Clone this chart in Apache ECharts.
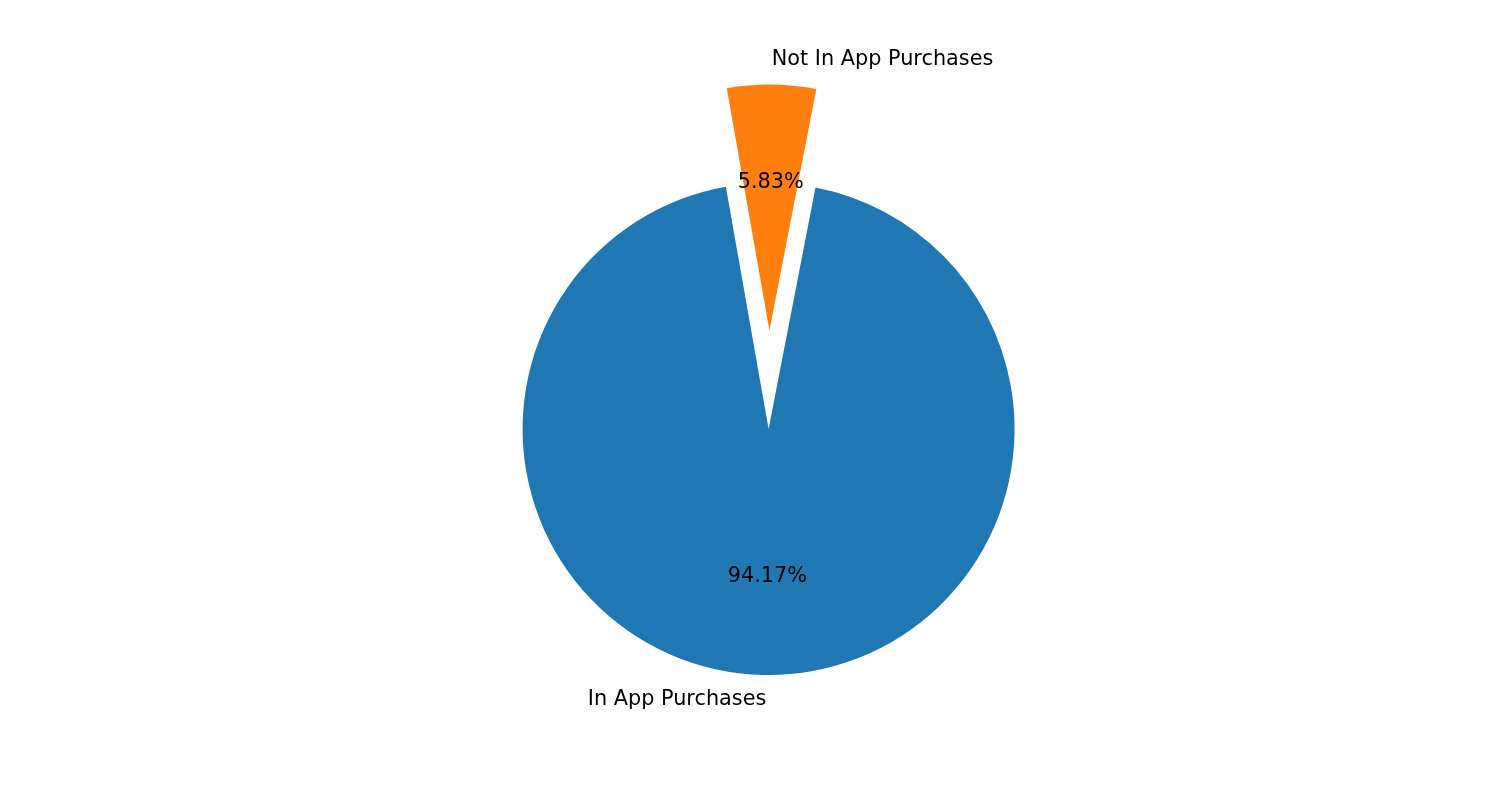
<!DOCTYPE html>
<html>
<head>
<meta charset="utf-8">
<script src="https://cdn.jsdelivr.net/npm/echarts@6/dist/echarts.min.js"></script>
<style>
html, body { margin: 0; padding: 0; background: #fff; }
#chart { width: 1500px; height: 800px; }
</style>
</head>
<body>
<div id="chart"></div>
<script>
const labels = ['In App Purchases', 'Not In App Purchases'];
const shares = [94.17, 5.83];
const colors = ['#1f77b4', '#ff7f0e'];
const exploded = [false, true];

const R = 246;
const center = [768.6, 429];
const font = { fontFamily: 'DejaVu Sans', fontSize: 20.8, color: '#000' };

let chart = echarts.init(document.getElementById('chart'));

function buildData(fill) {
	return labels.map((name, i) => ({
		name: name,
		value: shares[i],
		selected: exploded[i],
		itemStyle: { color: fill ? colors[i] : 'rgba(0,0,0,0)' }
	}));
}

const base = {
	type: 'pie',
	center: center,
	clockwise: false,
	startAngle: 100,
	selectedMode: 'single',
	selectedOffset: R * 0.4,
	avoidLabelOverlap: false,
	animation: false,
	silent: true,
	percentPrecision: 2,
	emphasis: { disabled: true }
};

const opt = {
	backgroundColor: '#fff',
	series: [
		// wedges + names at 1.1 r
		Object.assign({}, base, {
			radius: R,
			data: buildData(true),
			itemStyle: { borderWidth: 0 },
			label: Object.assign({
				show: true,
				position: 'outside',
				formatter: '{b}',
				distanceToLabelLine: 0
			}, font),
			labelLine: { show: false, length: R * 0.1, length2: 0 }
		}),
		// percentages at 0.6 r (inside labels get pushed out 3px, so shrink a bit)
		Object.assign({}, base, {
			radius: R * 1.2 - 6,
			data: buildData(false),
			itemStyle: { borderWidth: 0 },
			label: Object.assign({
				show: true,
				position: 'inside',
				formatter: '{d}%'
			}, font),
			labelLine: { show: false }
		})
	]
};
chart.setOption(opt);
</script>
</body>
</html>
